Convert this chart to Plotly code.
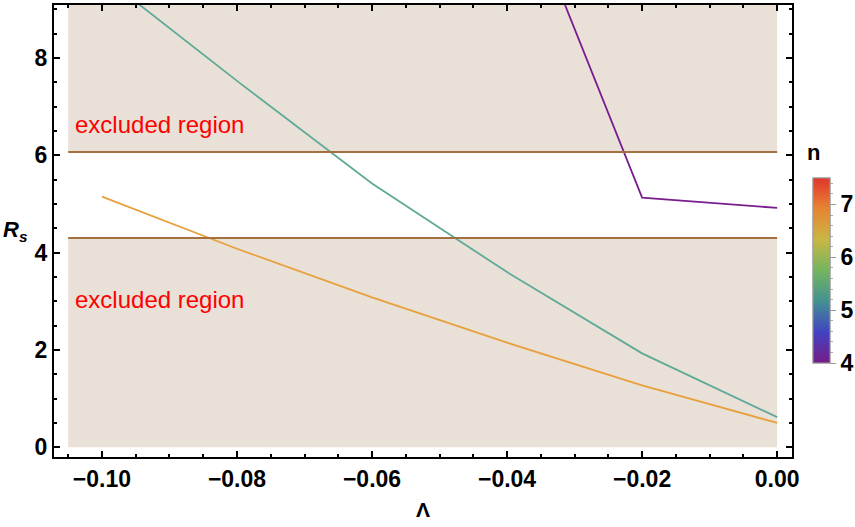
import plotly.graph_objects as go

# ---- data ----
lam = [-0.10, -0.08, -0.06, -0.04, -0.02, 0.00]
lam_n4 = [-0.04, -0.02, 0.00]
rs_n4 = [12.07, 5.13, 4.92]
rs_teal = [9.70, 7.53, 5.42, 3.60, 1.93, 0.62]
rs_orange = [5.15, 4.08, 3.08, 2.15, 1.27, 0.50]

lower_bound = 4.30
upper_bound = 6.07
lam_min = -0.105
lam_max = 0.0

x_range = [-0.1071, 0.0022]
y_range = [-0.2, 9.09]
x_ticks = [-0.10, -0.08, -0.06, -0.04, -0.02, 0.00]
x_ticktext = ["\u22120.10", "\u22120.08", "\u22120.06", "\u22120.04", "\u22120.02", "0.00"]
y_ticks = [0, 2, 4, 6, 8]
n_min, n_max = 4, 7.5
cb_ticks = [4, 5, 6, 7]

rainbow = [
    [0.0, "rgb(120,28,134)"],
    [0.1667, "rgb(65,67,195)"],
    [0.3333, "rgb(67,145,146)"],
    [0.5, "rgb(115,181,95)"],
    [0.6667, "rgb(201,183,68)"],
    [0.8333, "rgb(230,133,50)"],
    [1.0, "rgb(225,53,45)"],
]

FONT = "Liberation Sans"
fill_col = "#e9e0d7"
bound_col = "#a5703f"

# plot area in pixels
L, R, T, B = 54, 792, 5, 457
W, H = 855, 527
pw, ph = R - L, B - T

fig = go.Figure()

# shaded excluded regions
fig.add_shape(type="rect", x0=lam_min, x1=lam_max, y0=0, y1=lower_bound,
              fillcolor=fill_col, line_width=0, layer="below")
fig.add_shape(type="rect", x0=lam_min, x1=lam_max, y0=upper_bound, y1=y_range[1],
              fillcolor=fill_col, line_width=0, layer="below")
fig.add_shape(type="line", x0=lam_min, x1=lam_max, y0=lower_bound, y1=lower_bound,
              line=dict(color=bound_col, width=2))
fig.add_shape(type="line", x0=lam_min, x1=lam_max, y0=upper_bound, y1=upper_bound,
              line=dict(color=bound_col, width=2))

fig.add_trace(go.Scatter(x=lam, y=rs_orange, mode="lines",
                         line=dict(color="rgb(232,160,60)", width=1.8), showlegend=False))
fig.add_trace(go.Scatter(x=lam, y=rs_teal, mode="lines",
                         line=dict(color="rgb(95,170,150)", width=1.8), showlegend=False))
fig.add_trace(go.Scatter(x=lam_n4, y=rs_n4, mode="lines",
                         line=dict(color="rgb(122,30,142)", width=1.8), showlegend=False))

cb_x = (813 - L) / pw
cb_y = (B - 270.5) / ph
cb_common = dict(x=cb_x, xanchor="left", xpad=0, y=cb_y, yanchor="middle", ypad=0,
                 len=185, lenmode="pixels", thickness=17,
                 outlinewidth=1, outlinecolor="#999999")

# minor-tick colorbar (underneath)
fig.add_trace(go.Scatter(
    x=[1.0], y=[100.0], mode="markers", showlegend=False, hoverinfo="skip",
    marker=dict(size=0.1, color=[n_min], cmin=n_min, cmax=n_max, colorscale=rainbow,
                showscale=True,
                colorbar=dict(**cb_common, tick0=4, dtick=0.2, ticks="outside",
                              ticklen=3, tickcolor="#aaaaaa", showticklabels=False))))
# major colorbar with labels
fig.add_trace(go.Scatter(
    x=[1.0], y=[100.0], mode="markers", showlegend=False, hoverinfo="skip",
    marker=dict(size=0.1, color=[n_min], cmin=n_min, cmax=n_max, colorscale=rainbow,
                showscale=True,
                colorbar=dict(
                    **cb_common,
                    tickvals=cb_ticks,
                    ticks="outside", ticklen=6, tickcolor="#999999",
                    tickfont=dict(family=FONT, size=23, color="black", weight="bold"),
                ))))

axis_common = dict(
    showline=True, linecolor="black", linewidth=2, mirror="allticks",
    ticks="inside", ticklen=6, tickwidth=1.5, tickcolor="black",
    showgrid=False, zeroline=False, automargin=False,
    tickfont=dict(family=FONT, size=23, color="black", weight="bold"),
)

fig.update_layout(
    width=W, height=H,
    margin=dict(l=L, r=W - R, t=T, b=H - B, autoexpand=False),
    plot_bgcolor="white", paper_bgcolor="white",
    xaxis=dict(range=x_range, tickvals=x_ticks, ticktext=x_ticktext,
               minor=dict(ticks="inside", ticklen=3, dtick=0.005, tick0=0,
                          tickcolor="black", tickwidth=1.5),
               **axis_common),
    yaxis=dict(range=y_range, tickvals=y_ticks,
               minor=dict(ticks="inside", ticklen=3, dtick=0.5, tick0=0,
                          tickcolor="black", tickwidth=1.5),
               **axis_common),
    annotations=[
        dict(text="excluded region", x=-0.1043, y=6.64, xref="x", yref="y",
             xanchor="left", yanchor="middle", showarrow=False,
             font=dict(family=FONT, size=24, color="red")),
        dict(text="excluded region", x=-0.1043, y=3.03, xref="x", yref="y",
             xanchor="left", yanchor="middle", showarrow=False,
             font=dict(family=FONT, size=24, color="red")),
        dict(text="<b>Λ</b>", x=(423 - L) / pw, y=-(509 - B) / ph,
             xref="paper", yref="paper", yanchor="middle", showarrow=False,
             font=dict(family=FONT, size=21, color="black")),
        dict(text="<b><i>R<sub>s</sub></i></b>", x=-(L - 1) / pw, y=(B - 231) / ph,
             xref="paper", yref="paper", xanchor="left", yanchor="middle",
             showarrow=False,
             font=dict(family=FONT, size=22, color="black")),
        dict(text="<b>n</b>", x=(822 - L) / pw, y=(B - 152) / ph,
             xref="paper", yref="paper", yanchor="middle", showarrow=False,
             font=dict(family=FONT, size=22, color="black")),
    ],
)

fig.write_html("out.html", config={"displayModeBar": False})

# remove default page margin so the figure sits at the window origin
with open("out.html", "r", encoding="utf-8") as f:
    html = f.read()
html = html.replace("<head>", "<head><style>html,body{margin:0;padding:0;overflow:hidden}</style>", 1)
with open("out.html", "w", encoding="utf-8") as f:
    f.write(html)
